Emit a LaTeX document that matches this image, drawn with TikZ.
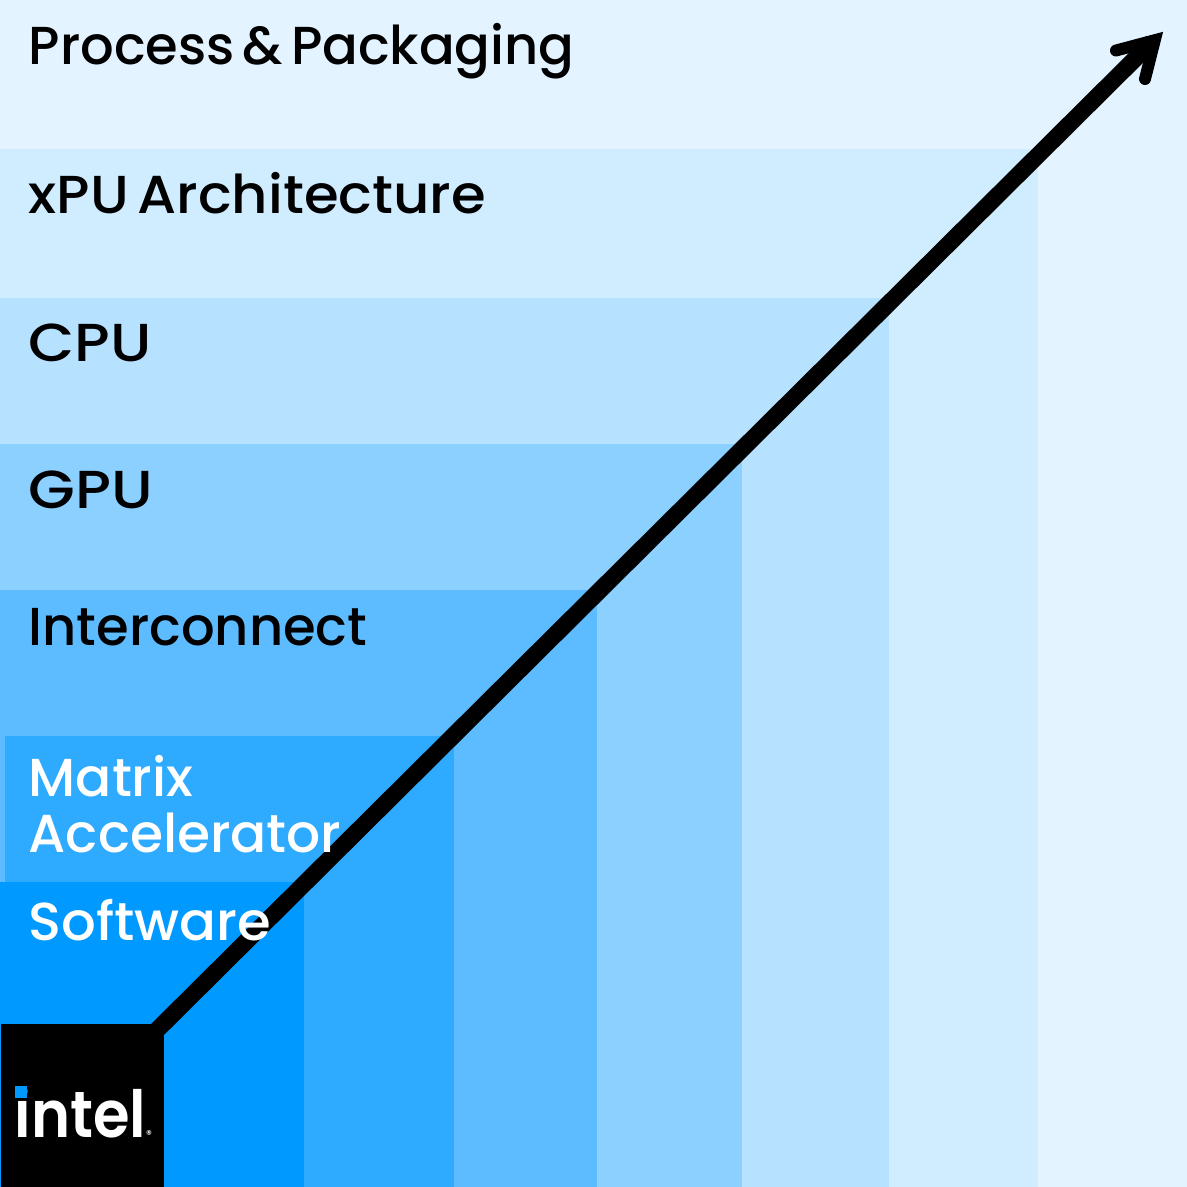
\documentclass[tikz,border=0pt]{standalone}
\usepackage{fontspec}
\setmainfont{Poppins Medium}[WordSpace=0.6]
\newfontfamily\logofont{Poppins SemiBold}
\usetikzlibrary{arrows.meta,positioning}
\definecolor{layerseven}{RGB}{227,243,255}
\definecolor{layersix}{RGB}{208,236,255}
\definecolor{layerfive}{RGB}{183,226,255}
\definecolor{layerfour}{RGB}{139,208,255}
\definecolor{layerthree}{RGB}{92,188,255}
\definecolor{layertwo}{RGB}{46,170,255}
\definecolor{layerone}{RGB}{0,153,255}
\tikzset{
  layerlabel/.style={anchor=base west,inner sep=0pt,align=left,font=\fontsize{15.2}{15.9}\selectfont},
  stairline/.style={draw=black,line width=4.8pt},
  stairhead/.style={draw=black,line width=3.4pt,line cap=round,line join=miter,miter limit=10}
}

\begin{document}
\begin{tikzpicture}[x=0.01cm,y=-0.01cm]
  \useasboundingbox (0,0) rectangle (1187,1187);
  % layers
  \fill[layerseven] (0,0) rectangle (1187,1187);
  \fill[layersix] (0,149) rectangle (1038,1187);
  \fill[layerfive] (0,298) rectangle (889,1187);
  \fill[layerfour] (0,444) rectangle (742,1187);
  \fill[layerthree] (0,590) rectangle (597,1187);
  \fill[layertwo] (5,736) rectangle (454,1187);
  \fill[layerone] (0,882) rectangle (304,1187);
  \node[fill=black,inner sep=0pt,minimum width=163*0.01cm,minimum height=164*0.01cm,anchor=north west] (logobox) at (0,1023) {};
  % arrow
  \coordinate (linestart) at (157,1030);
  \coordinate (lineend) at (1152,42);
  \coordinate (headtip) at (1154.8,40.2);
  \coordinate (headleft) at (1116,50.5);
  \coordinate (headright) at (1145,79);
  \draw[stairline] (linestart) -- (lineend);
  \draw[stairhead] (headleft) -- (headtip) -- (headright);
  % labels
  \node[layerlabel] (process) at (28,64) {\scalebox{0.987}[1]{Process \& Packaging}};
  \node[layerlabel] (xpu) at (28,213) {\scalebox{1.05}[1]{xPU Architecture}};
  \node[layerlabel] (cpu) at (28,361) {\scalebox{1.12}[1]{CPU}};
  \node[layerlabel] (gpu) at (28,508) {\scalebox{1.13}[1]{GPU}};
  \node[layerlabel] (interconnect) at (28,645) {\scalebox{0.988}[1]{Interconnect}};
  \node[layerlabel,text=white] (matrix) at (28,852) {Matrix\\Accelerator};
  \node[layerlabel,text=white] (software) at (28,940) {\scalebox{1.02}[1]{Software}};
  % logo
  \node[anchor=base west,inner sep=0pt,text=white,font=\logofont\fontsize{18.5}{18.5}\selectfont] (logotext) at (14,1137) {\scalebox{0.91}[1]{intel}};
  \node[anchor=base west,inner sep=0pt,text=white,font=\fontsize{3.2}{3.2}\selectfont] (logomark) at (145.5,1138) {®};
  \fill[layerone] (15,1086) rectangle (27,1098);
\end{tikzpicture}
\end{document}
